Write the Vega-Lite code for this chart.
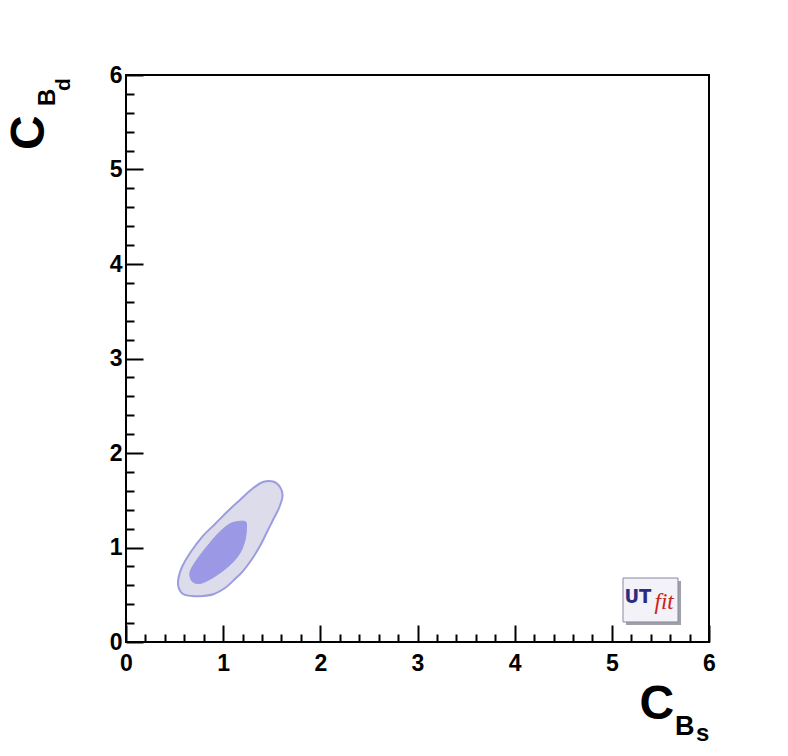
{
  "$schema": "https://vega.github.io/schema/vega-lite/v6.json",
  "width": 583,
  "height": 567,
  "autosize": "none",
  "padding": {"left": 126, "top": 75, "right": 79, "bottom": 114},
  "background": "white",
  "config": {
    "view": {"stroke": "black", "strokeWidth": 2},
    "axis": {"grid": false, "domain": false, "title": null}
  },
  "datasets": {
    "contours": [
      {"set": "outer", "i": 0, "x": 1.410, "y": 1.693},
      {"set": "outer", "i": 1, "x": 1.513, "y": 1.698},
      {"set": "outer", "i": 2, "x": 1.585, "y": 1.640},
      {"set": "outer", "i": 3, "x": 1.611, "y": 1.545},
      {"set": "outer", "i": 4, "x": 1.575, "y": 1.418},
      {"set": "outer", "i": 5, "x": 1.513, "y": 1.291},
      {"set": "outer", "i": 6, "x": 1.446, "y": 1.153},
      {"set": "outer", "i": 7, "x": 1.379, "y": 1.016},
      {"set": "outer", "i": 8, "x": 1.297, "y": 0.878},
      {"set": "outer", "i": 9, "x": 1.204, "y": 0.751},
      {"set": "outer", "i": 10, "x": 1.111, "y": 0.656},
      {"set": "outer", "i": 11, "x": 1.019, "y": 0.571},
      {"set": "outer", "i": 12, "x": 0.906, "y": 0.508},
      {"set": "outer", "i": 13, "x": 0.792, "y": 0.487},
      {"set": "outer", "i": 14, "x": 0.679, "y": 0.487},
      {"set": "outer", "i": 15, "x": 0.587, "y": 0.508},
      {"set": "outer", "i": 16, "x": 0.540, "y": 0.582},
      {"set": "outer", "i": 17, "x": 0.540, "y": 0.677},
      {"set": "outer", "i": 18, "x": 0.576, "y": 0.794},
      {"set": "outer", "i": 19, "x": 0.659, "y": 0.942},
      {"set": "outer", "i": 20, "x": 0.792, "y": 1.122},
      {"set": "outer", "i": 21, "x": 0.916, "y": 1.249},
      {"set": "outer", "i": 22, "x": 1.039, "y": 1.376},
      {"set": "outer", "i": 23, "x": 1.173, "y": 1.503},
      {"set": "outer", "i": 24, "x": 1.297, "y": 1.619},
      {"set": "inner", "i": 0, "x": 1.122, "y": 1.270},
      {"set": "inner", "i": 1, "x": 1.225, "y": 1.275},
      {"set": "inner", "i": 2, "x": 1.240, "y": 1.217},
      {"set": "inner", "i": 3, "x": 1.225, "y": 1.079},
      {"set": "inner", "i": 4, "x": 1.173, "y": 0.942},
      {"set": "inner", "i": 5, "x": 1.088, "y": 0.833},
      {"set": "inner", "i": 6, "x": 0.985, "y": 0.744},
      {"set": "inner", "i": 7, "x": 0.864, "y": 0.663},
      {"set": "inner", "i": 8, "x": 0.762, "y": 0.619},
      {"set": "inner", "i": 9, "x": 0.690, "y": 0.635},
      {"set": "inner", "i": 10, "x": 0.659, "y": 0.691},
      {"set": "inner", "i": 11, "x": 0.666, "y": 0.762},
      {"set": "inner", "i": 12, "x": 0.728, "y": 0.868},
      {"set": "inner", "i": 13, "x": 0.831, "y": 1.008},
      {"set": "inner", "i": 14, "x": 0.950, "y": 1.150},
      {"set": "inner", "i": 15, "x": 1.050, "y": 1.238}
    ],
    "one": [{}]
  },
  "layer": [
    {
      "data": {"name": "contours"},
      "transform": [{"filter": "datum.set === 'outer'"}],
      "mark": {"type": "line", "interpolate": "cardinal-closed", "fill": "#dcdcea", "stroke": "#9c9ce0", "strokeWidth": 2},
      "encoding": {
        "x": {"field": "x", "type": "quantitative", "scale": {"domain": [0, 6], "nice": false},
          "axis": {"orient": "bottom", "values": [0, 1, 2, 3, 4, 5, 6], "tickSize": -17, "tickWidth": 2, "tickColor": "black",
            "labelFont": "Liberation Sans", "labelFontWeight": "bold", "labelFontSize": 23, "labelColor": "black",
            "labelPadding": 27, "labelFlush": false, "labelOverlap": false}},
        "y": {"field": "y", "type": "quantitative", "scale": {"domain": [0, 6], "nice": false},
          "axis": {"orient": "left", "values": [0, 1, 2, 3, 4, 5, 6], "tickSize": -17, "tickWidth": 2, "tickColor": "black",
            "labelFont": "Liberation Sans", "labelFontWeight": "bold", "labelFontSize": 23, "labelColor": "black",
            "labelPadding": 21, "labelFlush": false, "labelOverlap": false}},
        "order": {"field": "i", "type": "quantitative"}
      }
    },
    {
      "data": {"name": "contours"},
      "transform": [{"filter": "datum.set === 'inner'"}],
      "mark": {"type": "line", "interpolate": "cardinal-closed", "fill": "#9b99e5", "stroke": "#9b99e5", "strokeWidth": 1},
      "encoding": {
        "x": {"field": "x", "type": "quantitative", "scale": {"domain": [0, 6], "nice": false},
          "axis": {"orient": "bottom", "values": [0.2, 0.4, 0.6, 0.8, 1.2, 1.4, 1.6, 1.8, 2.2, 2.4, 2.6, 2.8, 3.2, 3.4, 3.6, 3.8, 4.2, 4.4, 4.6, 4.8, 5.2, 5.4, 5.6, 5.8],
            "tickSize": -8, "tickWidth": 2, "tickColor": "black", "labels": false}},
        "y": {"field": "y", "type": "quantitative", "scale": {"domain": [0, 6], "nice": false},
          "axis": {"orient": "left", "values": [0.2, 0.4, 0.6, 0.8, 1.2, 1.4, 1.6, 1.8, 2.2, 2.4, 2.6, 2.8, 3.2, 3.4, 3.6, 3.8, 4.2, 4.4, 4.6, 4.8, 5.2, 5.4, 5.6, 5.8],
            "tickSize": -8, "tickWidth": 2, "tickColor": "black", "labels": false}},
        "order": {"field": "i", "type": "quantitative"}
      }
    },
    {
      "data": {"name": "one"},
      "mark": {"type": "rect", "fill": "#a0a0a8"},
      "encoding": {
        "x": {"datum": 5.146, "type": "quantitative", "scale": {"domain": [0, 6], "nice": false}, "axis": null},
        "x2": {"datum": 5.712},
        "y": {"datum": 0.180, "type": "quantitative", "scale": {"domain": [0, 6], "nice": false}, "axis": null},
        "y2": {"datum": 0.645}
      }
    },
    {
      "data": {"name": "one"},
      "mark": {"type": "rect", "fill": "#f2f2f8", "stroke": "#8888a0", "strokeWidth": 1},
      "encoding": {
        "x": {"datum": 5.115, "type": "quantitative", "scale": {"domain": [0, 6], "nice": false}, "axis": null},
        "x2": {"datum": 5.681},
        "y": {"datum": 0.212, "type": "quantitative", "scale": {"domain": [0, 6], "nice": false}, "axis": null},
        "y2": {"datum": 0.677}
      }
    },
    {
      "data": {"name": "one"},
      "mark": {"type": "text", "text": "UT", "align": "left", "baseline": "alphabetic", "font": "Liberation Sans Narrow, DejaVu Sans Condensed, Liberation Sans", "fontWeight": "bold", "fontSize": 20, "fill": "#2b2b80"},
      "encoding": {
        "x": {"datum": 5.130, "type": "quantitative", "scale": {"domain": [0, 6], "nice": false}, "axis": null},
        "y": {"datum": 0.413, "type": "quantitative", "scale": {"domain": [0, 6], "nice": false}, "axis": null}
      }
    },
    {
      "data": {"name": "one"},
      "mark": {"type": "text", "text": "fit", "align": "left", "baseline": "alphabetic", "font": "Liberation Serif", "fontStyle": "italic", "fontSize": 23, "fill": "#cc2020"},
      "encoding": {
        "x": {"datum": 5.440, "type": "quantitative", "scale": {"domain": [0, 6], "nice": false}, "axis": null},
        "y": {"datum": 0.349, "type": "quantitative", "scale": {"domain": [0, 6], "nice": false}, "axis": null}
      }
    },
    {
      "data": {"name": "one"},
      "mark": {"type": "text", "text": "C", "align": "left", "baseline": "alphabetic", "font": "Liberation Sans", "fontWeight": "bold", "fontSize": 48, "fill": "black"},
      "encoding": {
        "x": {"datum": 5.285, "type": "quantitative", "scale": {"domain": [0, 6], "nice": false}, "axis": null},
        "y": {"datum": -0.815, "type": "quantitative", "scale": {"domain": [0, 6], "nice": false}, "axis": null}
      }
    },
    {
      "data": {"name": "one"},
      "mark": {"type": "text", "text": "B", "align": "left", "baseline": "alphabetic", "font": "Liberation Sans", "fontWeight": "bold", "fontSize": 27, "fill": "black"},
      "encoding": {
        "x": {"datum": 5.650, "type": "quantitative", "scale": {"domain": [0, 6], "nice": false}, "axis": null},
        "y": {"datum": -0.984, "type": "quantitative", "scale": {"domain": [0, 6], "nice": false}, "axis": null}
      }
    },
    {
      "data": {"name": "one"},
      "mark": {"type": "text", "text": "s", "align": "left", "baseline": "alphabetic", "font": "Liberation Sans", "fontWeight": "bold", "fontSize": 24, "fill": "black"},
      "encoding": {
        "x": {"datum": 5.866, "type": "quantitative", "scale": {"domain": [0, 6], "nice": false}, "axis": null},
        "y": {"datum": -1.048, "type": "quantitative", "scale": {"domain": [0, 6], "nice": false}, "axis": null}
      }
    },
    {
      "data": {"name": "one"},
      "mark": {"type": "text", "text": "C", "align": "left", "baseline": "alphabetic", "angle": 270, "font": "Liberation Sans", "fontWeight": "bold", "fontSize": 48, "fill": "black"},
      "encoding": {
        "x": {"datum": -0.844, "type": "quantitative", "scale": {"domain": [0, 6], "nice": false}, "axis": null},
        "y": {"datum": 5.206, "type": "quantitative", "scale": {"domain": [0, 6], "nice": false}, "axis": null}
      }
    },
    {
      "data": {"name": "one"},
      "mark": {"type": "text", "text": "B", "align": "left", "baseline": "alphabetic", "angle": 270, "font": "Liberation Sans", "fontWeight": "bold", "fontSize": 24, "fill": "black"},
      "encoding": {
        "x": {"datum": -0.731, "type": "quantitative", "scale": {"domain": [0, 6], "nice": false}, "axis": null},
        "y": {"datum": 5.672, "type": "quantitative", "scale": {"domain": [0, 6], "nice": false}, "axis": null}
      }
    },
    {
      "data": {"name": "one"},
      "mark": {"type": "text", "text": "d", "align": "left", "baseline": "alphabetic", "angle": 270, "font": "Liberation Sans", "fontWeight": "bold", "fontSize": 21, "fill": "black"},
      "encoding": {
        "x": {"datum": -0.576, "type": "quantitative", "scale": {"domain": [0, 6], "nice": false}, "axis": null},
        "y": {"datum": 5.831, "type": "quantitative", "scale": {"domain": [0, 6], "nice": false}, "axis": null}
      }
    }
  ],
  "resolve": {"axis": {"x": "independent", "y": "independent"}}
}
